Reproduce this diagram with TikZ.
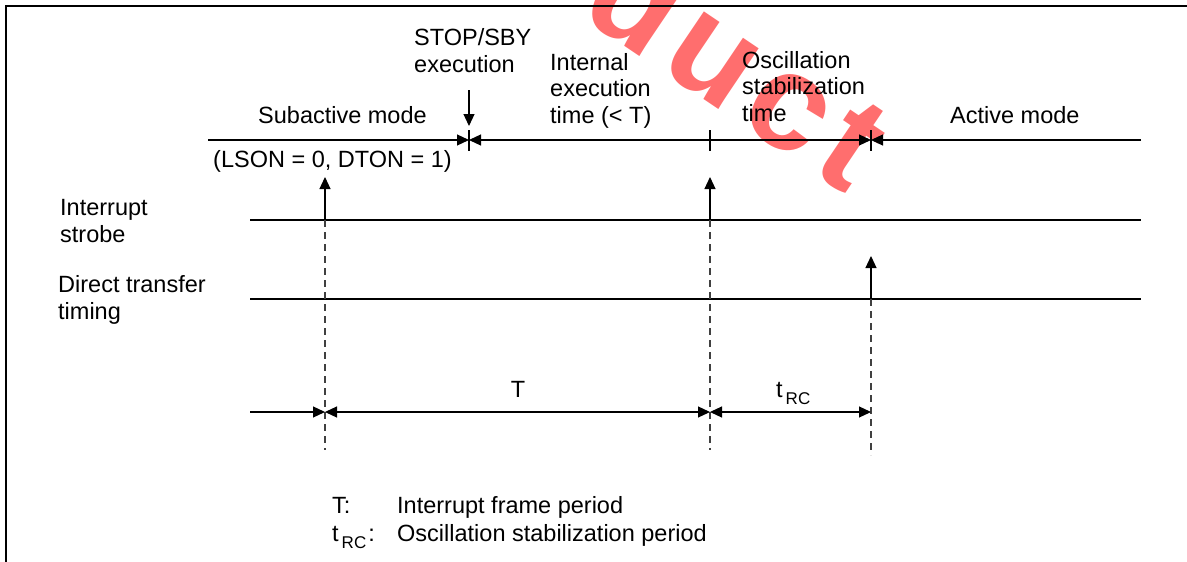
\documentclass[tikz,border=0pt]{standalone}
\usepackage{fontspec}
\setmainfont{Liberation Sans}
\usetikzlibrary{arrows.meta}
\definecolor{wm}{RGB}{255,110,110}
\begin{document}
\begin{tikzpicture}[x=1pt,y=-1pt,
  lbl/.style={inner sep=0pt,align=left,font=\fontsize{23.5}{26.5}\selectfont},
  sig/.style={line width=1.2pt},
  tip/.style={-{Triangle[length=12pt,width=11pt]}},
  dsh/.style={line width=1.1pt,black!75,dash pattern=on 7pt off 5pt},
  frame/.style={line width=2pt}]
\useasboundingbox (0,0) rectangle (1187,562);
\begin{scope}
\clip (0,0) rectangle (1187,562);
\node[rotate=-34,text=wm,inner sep=0pt,font=\fontsize{138}{138}\selectfont\bfseries\addfontfeatures{LetterSpace=8}] (wmk) at (740,64) {duct};
\end{scope}
\draw[frame] (6,562) -- (6,6) -- (1187,6);
% labels (multi-line nodes are anchored at the baseline of their last line)
\node[lbl,anchor=base west] (sub) at (258,123) {Subactive mode};
\node[lbl,anchor=base west] (stop) at (414,72) {STOP/SBY\\execution};
\node[lbl,anchor=base west] (int) at (550,123) {Internal\\execution\\time (< T)};
\node[lbl,anchor=base west] (osc) at (742,121) {Oscillation\\stabilization\\time};
\node[lbl,anchor=base west] (act) at (950,123) {Active mode};
\node[lbl,anchor=base west] (lson) at (213,167) {(LSON = 0, DTON = 1)};
\node[lbl,anchor=base west] (irq) at (60,242) {Interrupt\\strobe};
\node[lbl,anchor=base west] (dtt) at (58,319) {Direct transfer\\timing};
\node[lbl,anchor=base] (Tlab) at (518,397) {T};
\node[lbl,anchor=base west] (tlab) at (776,397) {t\hspace{3pt}\raisebox{-7pt}{\fontsize{17}{17}\selectfont RC}};
\node[lbl,anchor=base west] (lg1) at (332,513) {T:};
\node[lbl,anchor=base west] (lg1t) at (397,513) {Interrupt frame period};
\node[lbl,anchor=base west] (lg2) at (332,541) {t\hspace{3pt}\raisebox{-7pt}{\fontsize{17}{17}\selectfont RC}\hspace{2pt}:};
\node[lbl,anchor=base west] (lg2t) at (397,541) {Oscillation stabilization period};
% top time line
\coordinate (a0) at (208,140);
\coordinate (aS) at (469,140);
\coordinate (aI) at (710,140);
\coordinate (aO) at (871,140);
\coordinate (a1) at (1141,140);
\draw[sig,tip] (a0) -- (aS);
\draw[sig,tip] (aI) -- (aS);
\draw[sig,tip] (aI) -- (aO);
\draw[sig,tip] (a1) -- (aO);
\foreach \x in {469,710,871}{\draw[sig] (\x,130) -- (\x,151);}
\coordinate (sdn) at (469,90);
\coordinate (sdt) at (469,126);
\draw[sig,tip] (sdn) -- (sdt);
% signal lines
\coordinate (i0) at (250,220); \coordinate (i1) at (1141,220);
\coordinate (d0) at (250,299); \coordinate (d1) at (1141,299);
\draw[sig] (i0) -- (i1);
\draw[sig] (d0) -- (d1);
% event arrows
\coordinate (e1) at (325,220); \coordinate (e1t) at (325,177); \coordinate (e1b) at (325,450);
\coordinate (e2) at (710,220); \coordinate (e2t) at (710,177); \coordinate (e2b) at (710,450);
\coordinate (e3) at (871,299); \coordinate (e3t) at (871,256); \coordinate (e3b) at (871,455);
\draw[sig,tip] (e1) -- (e1t);
\draw[sig,tip] (e2) -- (e2t);
\draw[sig,tip] (e3) -- (e3t);
\draw[dsh] (e1) -- (e1b);
\draw[dsh] (e2) -- (e2b);
\draw[dsh] (e3) -- (e3b);
% bottom dimension line
\coordinate (b0) at (250,412);
\coordinate (b1) at (325,412);
\coordinate (b2) at (710,412);
\coordinate (b3) at (871,412);
\draw[sig,tip] (b0) -- (b1);
\draw[sig,{Triangle[length=12pt,width=11pt]}-{Triangle[length=12pt,width=11pt]}] (b1) -- (b2);
\draw[sig,{Triangle[length=12pt,width=11pt]}-{Triangle[length=12pt,width=11pt]}] (b2) -- (b3);
\end{tikzpicture}
\end{document}
